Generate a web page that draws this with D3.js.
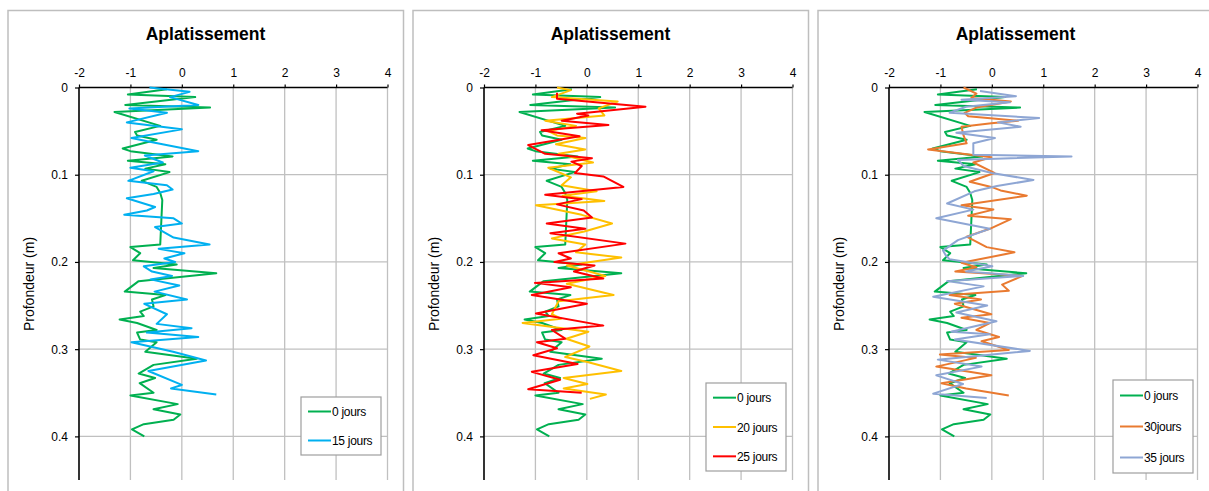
<!DOCTYPE html>
<html><head><meta charset="utf-8">
<script src="https://cdn.jsdelivr.net/npm/d3@7"></script>
<style>body{margin:0;background:#fff}svg{display:block}</style></head>
<body><svg id="c" width="1209" height="491"></svg>
<script>
const chartTitle = "Aplatissement";
const yAxisLabel = "Profondeur (m)";
const xTicks = [-2, -1, 0, 1, 2, 3, 4];
const xTickLabels = ["-2", "-1", "0", "1", "2", "3", "4"];
const yTicks = [0, 0.1, 0.2, 0.3, 0.4];
const yTickLabels = ["0", "0.1", "0.2", "0.3", "0.4"];

// 0 jours
const depth0 = [0.002,0.008,0.011,0.020,0.023,0.028,0.044,0.051,0.055,0.060,0.070,0.073,0.079,0.084,0.088,0.093,0.097,0.107,0.114,0.121,0.129,0.180,0.183,0.190,0.198,0.203,0.207,0.213,0.222,0.234,0.238,0.243,0.251,0.257,0.262,0.266,0.270,0.278,0.281,0.289,0.292,0.303,0.311,0.318,0.328,0.333,0.339,0.350,0.353,0.363,0.369,0.375,0.381,0.386,0.392,0.400];
const value0 = [-0.29,-1.05,0.26,-1.10,0.55,-1.31,-0.42,-0.91,-0.87,-0.49,-1.15,-1.0,-0.18,-1.05,-0.32,-0.71,-0.24,-0.78,-0.49,-0.42,-0.38,-0.42,-1.0,-0.81,-0.95,-0.10,-0.55,0.67,-0.84,-1.11,-0.32,-0.58,-0.55,-0.81,-0.74,-1.21,-0.87,-0.49,-0.87,-0.81,-0.49,-0.71,0.29,-0.55,-0.84,-0.52,-0.82,-0.55,-1.0,-0.08,-0.55,-0.03,-0.16,-0.74,-0.97,-0.73];
// 15 jours
const depth15 = [0,0.005,0.011,0.020,0.024,0.029,0.040,0.048,0.058,0.063,0.073,0.078,0.086,0.092,0.096,0.107,0.112,0.117,0.122,0.127,0.137,0.141,0.146,0.150,0.156,0.160,0.172,0.180,0.185,0.190,0.196,0.200,0.205,0.211,0.216,0.220,0.227,0.234,0.243,0.248,0.260,0.271,0.276,0.281,0.286,0.292,0.303,0.313,0.325,0.341,0.345,0.352];
const value15 = [-0.63,0.15,-0.23,0.32,-1.02,-0.29,-1.07,0,-0.98,-0.55,0.32,-0.72,-0.37,-1.0,-0.55,-1.04,-0.29,-0.18,-0.55,-1.07,-0.52,-0.68,-1.12,-0.16,0,-0.52,-0.16,0.54,-0.45,0.05,-0.34,-0.13,-0.74,-0.58,-0.19,-0.61,-0.05,-0.53,0.10,-0.73,-0.29,-0.49,0.19,-0.68,0.32,-0.98,-0.17,0.47,-0.65,0,-0.21,0.67];
// 20 jours
const depth20 = [0,0.003,0.011,0.016,0.024,0.032,0.038,0.044,0.050,0.055,0.058,0.065,0.071,0.076,0.086,0.092,0.103,0.112,0.119,0.124,0.130,0.135,0.146,0.156,0.165,0.173,0.180,0.189,0.195,0.204,0.216,0.225,0.238,0.245,0.260,0.265,0.270,0.280,0.288,0.297,0.309,0.315,0.325,0.333,0.340,0.345,0.352,0.357];
const value20 = [-0.58,-0.31,-0.68,0.60,0.23,0.34,-0.81,-0.21,-0.75,-0.58,-0.03,-0.60,-0.03,-0.55,0.12,-0.75,-0.31,-0.49,0.19,-0.47,0.34,-0.99,-0.10,0.49,-0.05,-0.68,-0.03,-0.21,0.67,-0.39,0.36,-0.39,0.52,-0.55,-0.68,-0.50,-1.25,0.03,-0.40,0.05,-0.42,0.03,0.67,-0.45,0.01,-0.45,0.37,0.06];
// 25 jours
const depth25 = [0.006,0.013,0.022,0.030,0.032,0.038,0.043,0.049,0.056,0.061,0.066,0.076,0.081,0.085,0.090,0.098,0.102,0.114,0.123,0.128,0.134,0.141,0.149,0.156,0.162,0.167,0.179,0.190,0.196,0.200,0.204,0.211,0.219,0.224,0.229,0.238,0.248,0.259,0.273,0.278,0.288,0.292,0.299,0.307,0.317,0.326,0.335,0.346,0.350];
const value25 = [-0.58,-0.58,1.14,-0.19,0.03,-0.49,0.42,-0.88,-0.14,-0.65,-1.14,-0.81,0.10,-0.30,-0.10,-0.23,0.32,0.71,-0.81,-0.10,-0.58,-0.06,0.10,-0.78,-0.03,-0.71,0.75,-0.55,-0.31,-0.63,0.15,-0.25,0.32,-1.01,-0.31,-1.07,0,-0.99,0.32,-0.68,-0.42,-0.97,-0.58,-1.04,-0.18,-1.07,-0.52,-1.14,-0.10];
// 30jours
const depth30 = [0,0.007,0.012,0.016,0.023,0.029,0.033,0.038,0.041,0.045,0.055,0.064,0.071,0.080,0.086,0.098,0.108,0.114,0.118,0.124,0.135,0.140,0.147,0.151,0.162,0.171,0.183,0.189,0.201,0.206,0.211,0.216,0.226,0.233,0.238,0.243,0.248,0.260,0.264,0.270,0.278,0.286,0.291,0.301,0.306,0.310,0.320,0.330,0.339,0.345,0.353];
const value30 = [-0.55,-0.30,-0.40,0.37,-0.30,-0.53,-0.46,0.51,-0.01,-0.59,-0.55,-0.49,-1.24,-0.01,-0.36,0.05,-0.43,-0.01,0.17,0.68,-0.59,0.03,-0.46,0.37,-0.04,-0.49,-0.10,0.44,-0.59,-0.30,-0.71,0.60,0.20,0.33,-0.82,-0.21,-0.72,-0.01,-0.59,-0.04,-0.30,0.14,-0.20,0.33,-1.01,-0.31,-1.08,-0.01,-0.98,-0.50,0.33];
// 35 jours
const depth35 = [0.004,0.010,0.014,0.017,0.022,0.029,0.035,0.040,0.045,0.052,0.058,0.064,0.077,0.079,0.083,0.090,0.098,0.106,0.113,0.119,0.133,0.140,0.150,0.162,0.175,0.187,0.192,0.197,0.205,0.211,0.216,0.222,0.228,0.240,0.250,0.258,0.268,0.280,0.283,0.289,0.302,0.312,0.320,0.330,0.340,0.351,0.356];
const value35 = [-0.23,0.47,-0.59,0.35,-0.50,-0.82,0.92,0.12,0.56,-0.69,0.06,-0.36,-0.36,1.55,-0.66,-0.55,0,0.81,0.10,-0.34,-0.87,-0.36,-1.08,-0.04,-0.66,-0.95,-0.90,-0.82,0.01,-0.50,0.61,-0.87,-0.16,-1.14,-0.09,-0.69,0.09,-0.79,-0.04,-0.72,0.74,-1.05,-0.20,-1.08,-0.56,-1.14,-0.10];

const seriesNames = ["0 jours", "15 jours", "20 jours", "25 jours", "30jours", "35 jours"];
const seriesColors = ["#00B050", "#00B0F0", "#FFC000", "#FF0000", "#E97A30", "#8EA6D4"];

const mk = (i, d, v) => ({ name: seriesNames[i], color: seriesColors[i], pts: d.map((dd, k) => [v[k], dd]) });
const panels = [
  { x0: 0,   series: [mk(0, depth0, value0), mk(1, depth15, value15)], legend: { x: 301, y: 397, h: 58 } },
  { x0: 405, series: [mk(0, depth0, value0), mk(2, depth20, value20), mk(3, depth25, value25)], legend: { x: 301, y: 383, h: 88 } },
  { x0: 810, series: [mk(0, depth0, value0), mk(4, depth30, value30), mk(5, depth35, value35)], legend: { x: 303, y: 380, h: 93 } }
];

const svg = d3.select("#c");
const font = "'Liberation Sans', Arial, sans-serif";

panels.forEach(p => {
  const g = svg.append("g").attr("transform", `translate(${p.x0},0)`);
  g.append("path").attr("d", "M8,500 V10.5 H403.5 V500")
    .attr("fill", "none").attr("stroke", "#BEBEBE").attr("stroke-width", 1.5);

  const x = d3.scaleLinear().domain([-2, 4]).range([79, 387.5]);
  const y = d3.scaleLinear().domain([0, 0.45]).range([87.5, 480]);

  g.append("g").selectAll("line").data(xTicks.slice(1)).join("line")
    .attr("x1", d => x(d)).attr("x2", d => x(d)).attr("y1", y(0)).attr("y2", y(0.45))
    .attr("stroke", "#C0C0C0").attr("stroke-width", 1.3);
  g.append("g").selectAll("line").data(yTicks.slice(1)).join("line")
    .attr("x1", x(-2)).attr("x2", x(4)).attr("y1", d => y(d)).attr("y2", d => y(d))
    .attr("stroke", "#C0C0C0").attr("stroke-width", 1.3);

  const ax = g.append("g").attr("transform", `translate(0,${y(0)})`)
    .call(d3.axisTop(x).tickValues(xTicks).tickFormat((d, i) => xTickLabels[i]).tickSize(3).tickPadding(8));
  const ay = g.append("g").attr("transform", `translate(${x(-2)},0)`)
    .call(d3.axisLeft(y).tickValues(yTicks).tickFormat((d, i) => yTickLabels[i]).tickSize(4).tickPadding(7));
  [ax, ay].forEach(a => {
    a.select(".domain").attr("stroke", "#000").attr("stroke-width", 1.6);
    a.selectAll(".tick line").attr("stroke", "#000").attr("stroke-width", 1.2);
    a.selectAll("text").attr("font-family", font).attr("font-size", 12).attr("fill", "#000");
  });
  ax.select(".domain").attr("d", `M${x(-2)},0H${x(4)}`);
  ay.select(".domain").attr("d", `M0,0V${y(0.45) - y(0)}`).attr("transform", `translate(0,${y(0)})`);

  g.append("text").attr("x", 205.5).attr("y", 40).attr("text-anchor", "middle")
    .attr("font-family", font).attr("font-weight", "bold").attr("font-size", 17.5).text(chartTitle);
  g.append("text").attr("transform", "translate(34,284) rotate(-90)").attr("text-anchor", "middle")
    .attr("font-family", font).attr("font-size", 14).text(yAxisLabel);

  const line = d3.line().x(d => x(d[0])).y(d => y(d[1]));
  p.series.forEach(s => {
    g.append("path").datum(s.pts).attr("d", line).attr("fill", "none")
      .attr("stroke", s.color).attr("stroke-width", 2).attr("stroke-linejoin", "round");
  });

  const L = p.legend;
  const lg = g.append("g");
  lg.append("rect").attr("x", L.x).attr("y", L.y).attr("width", 80).attr("height", L.h)
    .attr("fill", "#fff").attr("stroke", "#9E9E9E").attr("stroke-width", 1.2);
  const n = p.series.length;
  const step = L.h / n;
  p.series.forEach((s, i) => {
    const cy = L.y + step * (i + 0.5);
    lg.append("line").attr("x1", L.x + 7).attr("x2", L.x + 30).attr("y1", cy).attr("y2", cy)
      .attr("stroke", s.color).attr("stroke-width", 2);
    lg.append("text").attr("x", L.x + 31).attr("y", cy + 4.5).attr("font-family", font)
      .attr("font-size", 12).attr("letter-spacing", -0.3).text(s.name);
  });
});
</script></body></html>
